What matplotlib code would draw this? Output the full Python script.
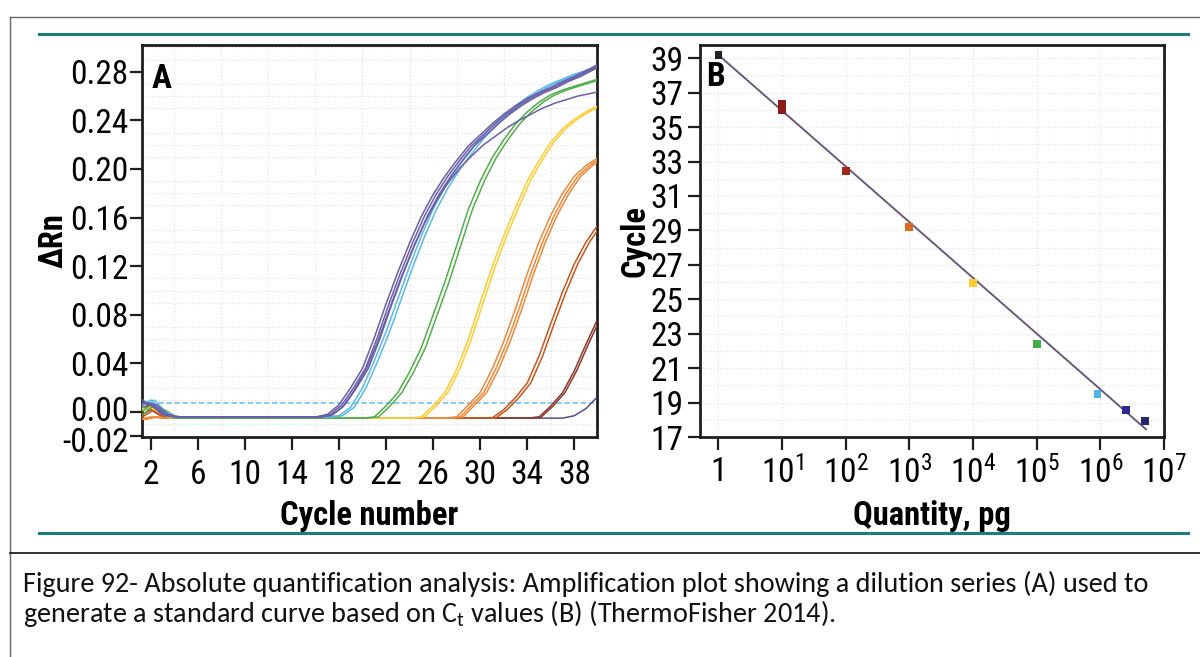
import matplotlib
matplotlib.use("Agg")
import matplotlib.pyplot as plt
import matplotlib.ticker as ticker
from matplotlib import font_manager
from matplotlib.lines import Line2D
from matplotlib.transforms import ScaledTranslation


def pick_family(candidates, need_bold=False):
    have = {}
    for f in font_manager.fontManager.ttflist:
        have.setdefault(f.name, set()).add(f.weight)
    for name in candidates:
        if name in have:
            w = [int(x) if str(x).isdigit() else 400 for x in have[name]]
            if not need_bold or max(w) >= 700:
                return name
    return "DejaVu Sans"


NARROW = pick_family(["Roboto Condensed", "Fira Sans Condensed",
                      "PT Sans Narrow", "IBM Plex Sans Condensed",
                      "Asap Condensed", "Archivo Narrow"], need_bold=True)
CAPTION = pick_family(["Carlito", "Lato"])
plt.rcParams["font.family"] = [NARROW, "DejaVu Sans"]

W, H = 1200, 657

# ---- panel A: amplification traces, dRn read per cycle (1..40) ----
cycles = list(range(1, 41))

rn_purple_hi = [0.008, 0.006, -0.002] + [-0.004] * 13 + [
    -0.002, 0.006, 0.020, 0.036, 0.061, 0.089, 0.115, 0.139, 0.161, 0.179,
    0.194, 0.207, 0.219, 0.228, 0.237, 0.245, 0.252, 0.258, 0.263, 0.267,
    0.272, 0.276, 0.281, 0.286]
rn_purple_lo = [0.010, 0.004, -0.003] + [-0.004] * 13 + [
    -0.003, 0.004, 0.018, 0.035, 0.058, 0.085, 0.111, 0.135, 0.156, 0.174,
    0.189, 0.201, 0.211, 0.220, 0.227, 0.234, 0.240, 0.245, 0.250, 0.254,
    0.257, 0.260, 0.262, 0.264]
rn_blue = [0.004, 0.010, 0.000] + [-0.004] * 14 + [
    -0.003, 0.004, 0.020, 0.042, 0.066, 0.093, 0.120, 0.145, 0.167, 0.185,
    0.200, 0.213, 0.225, 0.235, 0.244, 0.252, 0.259, 0.265, 0.270, 0.274,
    0.278, 0.281, 0.284]
rn_green = [-0.002, 0.006, 0.001] + [-0.005] * 17 + [
    -0.004, 0.005, 0.016, 0.033, 0.053, 0.080, 0.107, 0.137, 0.167, 0.190,
    0.209, 0.224, 0.237, 0.247, 0.255, 0.261, 0.265, 0.268, 0.271, 0.274]
rn_yellow = [0.002, 0.004, -0.002] + [-0.005] * 21 + [
    -0.004, 0.005, 0.016, 0.035, 0.060, 0.090, 0.119, 0.145, 0.168, 0.190,
    0.207, 0.222, 0.233, 0.241, 0.247, 0.252]
rn_orange = [-0.006, -0.004, -0.005] + [-0.005] * 24 + [
    -0.004, 0.006, 0.016, 0.035, 0.058, 0.085, 0.114, 0.140, 0.162, 0.180,
    0.194, 0.203, 0.209]
rn_dark_orange = [-0.004, 0.002, -0.004] + [-0.005] * 28 + [
    0.002, 0.012, 0.024, 0.046, 0.073, 0.099, 0.122, 0.140, 0.154]
rn_maroon = [0.003, 0.006, -0.003] + [-0.005] * 31 + [
    -0.004, 0.005, 0.016, 0.034, 0.056, 0.077]
rn_late = [0.004, 0.002, -0.003] + [-0.005] * 34 + [-0.003, 0.003, 0.013]

traces = [rn_late, rn_maroon, rn_dark_orange, rn_orange, rn_yellow,
          rn_green, rn_blue, rn_purple_lo, rn_purple_hi]
trace_colors = ["#5a4a8a", "#8a3a2a", "#c8561c", "#f0883a", "#ffcc33",
                "#52ad4a", "#5bb8ea", "#6b5ea8", "#6b5ea8"]
# replicate wells: cycle offsets of each replicate relative to the trace
replicate_shift = [[0.0], [0.0, 0.2], [0.0, 0.3], [0.0, 0.3, 0.55],
                   [0.0, 0.25], [0.0, 0.35], [0.0, 0.3], [0.3],
                   [0.0, 0.25, 0.5]]
threshold = 0.0077

a_yticks = [-0.02, 0.00, 0.04, 0.08, 0.12, 0.16, 0.20, 0.24, 0.28]
a_ylabels = ["-0.02", "0.00", "0.04", "0.08", "0.12", "0.16", "0.20",
             "0.24", "0.28"]
a_xticks = [2, 6, 10, 14, 18, 22, 26, 30, 34, 38]

# ---- panel B: standard curve ----
std_qty = [1, 10, 10, 100, 1000, 1e4, 1e5, 9e5, 2.5e6, 5e6]
std_ct = [39.19, 36.35, 36.0, 32.43, 29.19, 25.97, 22.40, 19.50, 18.59, 17.92]
std_colors = ["#222222", "#8b1a1a", "#8b1a1a", "#a02a1e", "#d86a22",
              "#ffc933", "#3fae49", "#4fb3ea", "#2a2a8a", "#262670"]
fit_qty = [1, 5.2e6]
fit_ct = [39.19, 17.45]

b_yticks = list(range(17, 40, 2))
b_xticks = [1, 1e1, 1e2, 1e3, 1e4, 1e5, 1e6, 1e7]
b_xlabels = ["1"] + [r"$\mathregular{10^{%d}}$" % k for k in range(1, 8)]

TICK_FS = 24
LABEL_FS = 23.5
CAP_FS = 20.3 if CAPTION == "Carlito" else 18.5


def px_axes(fig, left, top, right, bottom):
    return fig.add_axes([left / W, 1 - bottom / H,
                         (right - left) / W, (bottom - top) / H])


def style_frame(ax):
    for s in ax.spines.values():
        s.set_linewidth(2)
        s.set_color("#1e1e1e")
    ax.tick_params(which="major", length=9, width=1.6, color="#1e1e1e",
                   labelsize=TICK_FS, direction="out")
    ax.tick_params(which="minor", length=0)


def nudge(label, dy_pt):
    label.set_transform(label.get_transform()
                        + ScaledTranslation(0, dy_pt / 72, fig.dpi_scale_trans))


fig = plt.figure(figsize=(W / 100, H / 100), dpi=100)

# page furniture: outer box, teal rules, caption separator
fig.add_artist(Line2D([10 / W, 10 / W], [0, 1 - 16.7 / H], color="#666666", lw=1.0))
fig.add_artist(Line2D([10 / W, 1], [1 - 16.7 / H] * 2, color="#666666", lw=1.0))
for yy in (34, 533):
    fig.add_artist(Line2D([39 / W, 1188 / W], [1 - yy / H] * 2,
                          color="#1f7c83", lw=2.2))
fig.add_artist(Line2D([10 / W, 1], [1 - 553 / H] * 2, color="#111111", lw=1.2))

# ---------------- panel A ----------------
axA = px_axes(fig, 141.7, 45, 596.7, 437)
for trace, col, shifts in zip(traces, trace_colors, replicate_shift):
    for sh in shifts:
        axA.plot([c + sh for c in cycles], trace, color=col, lw=1.1, zorder=3)
axA.axhline(threshold, color="#7cc8f0", lw=1.3, ls=(0, (3, 1.5)), zorder=2)

axA.set_xlim(1.24, 39.9)
axA.set_ylim(-0.0205, 0.302)
axA.set_xticks(a_xticks)
axA.set_yticks(a_yticks)
axA.set_yticklabels(a_ylabels)
axA.xaxis.set_minor_locator(ticker.MultipleLocator(2))
axA.yaxis.set_minor_locator(ticker.MultipleLocator(0.01))
axA.grid(which="minor", color="#e2e2e2", lw=0.9, ls=":", zorder=0)
style_frame(axA)
axA.tick_params(axis="y", pad=0.5)
axA.tick_params(axis="x", pad=7)
# the two bottom labels are crowded; spread them a little, as in the original
ylabs = axA.get_yticklabels()
nudge(ylabs[0], -2)
nudge(ylabs[1], 2.5)
axA.text(0.022, 0.955, "A", transform=axA.transAxes, fontsize=24,
         fontweight="bold", ha="left", va="top")
axA.text(0.5, -0.2245, "Cycle number", transform=axA.transAxes,
         fontsize=LABEL_FS, fontweight="bold", ha="center", va="baseline")
axA.text(-0.193, 0.5, "\u0394Rn", transform=axA.transAxes, rotation=90,
         fontsize=LABEL_FS, fontweight="bold", ha="center", va="center")

# ---------------- panel B ----------------
axB = px_axes(fig, 700, 45, 1164, 437)
axB.set_xscale("log")
axB.plot(fit_qty, fit_ct, color="#6a5a7a", lw=1.4, zorder=3)
axB.scatter(std_qty, std_ct, marker="s", s=32, c=std_colors,
            edgecolors="none", zorder=4)
axB.set_xlim(10 ** -0.29, 1e7)
axB.set_ylim(17.0, 39.77)
axB.set_xticks(b_xticks)
axB.set_xticklabels(b_xlabels)
axB.set_yticks(b_yticks)
axB.xaxis.set_minor_locator(ticker.LogLocator(base=10, subs=range(2, 10)))
axB.xaxis.set_minor_formatter(ticker.NullFormatter())
axB.yaxis.set_minor_locator(ticker.MultipleLocator(1))
axB.grid(which="both", color="#e4e4e4", lw=0.9, ls=":", zorder=0)
style_frame(axB)
axB.tick_params(axis="y", pad=3)
axB.tick_params(axis="x", pad=5)
axB.text(0.013, 0.96, "B", transform=axB.transAxes, fontsize=24,
         fontweight="bold", ha="left", va="top")
axB.text(0.5, -0.2245, "Quantity, pg", transform=axB.transAxes,
         fontsize=LABEL_FS, fontweight="bold", ha="center", va="baseline")
axB.text(-0.138, 0.5, "Cycle", transform=axB.transAxes, rotation=90,
         fontsize=LABEL_FS, fontweight="bold", ha="center", va="center")

# ---------------- caption ----------------
cap1 = ("Figure 92- Absolute quantification analysis: Amplification plot "
        "showing a dilution series (A) used to")
cap2 = (r"generate a standard curve based on C$_\mathregular{t}$ values (B) "
        "(ThermoFisher 2014).")
fig.text(23 / W, 1 - 592 / H, cap1, family=CAPTION, fontsize=CAP_FS,
         ha="left", va="baseline", color="#111111")
fig.text(23 / W, 1 - 622 / H, cap2, family=CAPTION, fontsize=CAP_FS,
         ha="left", va="baseline", color="#111111")

fig.savefig("out.png", dpi=100)
